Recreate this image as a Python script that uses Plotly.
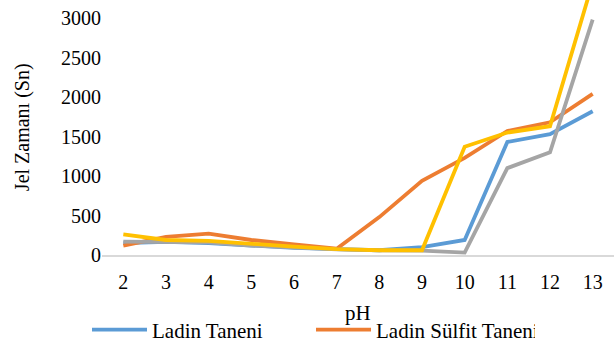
import plotly.graph_objects as go

ph = ["2", "3", "4", "5", "6", "7", "8", "9", "10", "11", "12", "13"]
ladin_taneni = [150, 165, 150, 120, 90, 75, 60, 100, 190, 1430, 1530, 1820]
ladin_sulfit_taneni = [120, 230, 270, 190, 135, 80, 480, 940, 1230, 1570, 1680, 2040]
seri3 = [170, 160, 160, 120, 90, 70, 60, 55, 30, 1100, 1300, 2980]
seri4 = [260, 190, 180, 140, 105, 75, 60, 60, 1370, 1550, 1630, 3450]
y_ticks = [0, 500, 1000, 1500, 2000, 2500, 3000]

font = "Liberation Serif"

fig = go.Figure()
fig.add_trace(go.Scatter(x=ph, y=ladin_taneni, mode="lines", name="Ladin Taneni",
                         line=dict(color="#5B9BD5", width=3.8)))
fig.add_trace(go.Scatter(x=ph, y=ladin_sulfit_taneni, mode="lines", name="Ladin Sülfit Taneni",
                         line=dict(color="#ED7D31", width=3.8)))
fig.add_trace(go.Scatter(x=ph, y=seri3, mode="lines", name="Seri 3", showlegend=False,
                         line=dict(color="#A5A5A5", width=3.8)))
fig.add_trace(go.Scatter(x=ph, y=seri4, mode="lines", name="Seri 4", showlegend=False,
                         line=dict(color="#FFC000", width=3.8)))

fig.update_layout(
    template="none",
    width=614, height=342,
    margin=dict(l=102, r=0, t=0, b=87, pad=0, autoexpand=False),
    paper_bgcolor="white", plot_bgcolor="white",
    font=dict(family=font, size=20, color="black"),
    xaxis=dict(type="category", range=[-0.5, 11.5], automargin=False, showgrid=False, showline=True,
               linecolor="#D9D9D9", linewidth=1.5, zeroline=False,
               ticks="outside", ticklen=8, tickcolor="rgba(0,0,0,0)"),
    yaxis=dict(range=[0, 3228], tickvals=y_ticks, ticktext=[str(v) for v in y_ticks],
               ticksuffix="\u00a0\u00a0\u00a0",
               automargin=False, showgrid=False, zeroline=False, showline=False,
               ticks="", ticklen=0),
    legend=dict(orientation="h", xref="container", yref="container",
                x=0.1417, xanchor="left", y=0.035, yanchor="middle",
                entrywidth=154, entrywidthmode="pixels", itemwidth=55,
                font=dict(size=21), bgcolor="rgba(0,0,0,0)"),
    showlegend=True,
    annotations=[
        dict(text="pH", xref="paper", yref="paper", x=0.5, y=-0.2275,
             xanchor="center", yanchor="middle", showarrow=False, font=dict(size=21)),
        dict(text="Jel Zamanı (Sn)", xref="paper", yref="paper", x=-0.155, y=0.5,
             xanchor="center", yanchor="middle", textangle=-90, showarrow=False,
             font=dict(size=20)),
    ],
)

fig.write_html("out.html", post_script="document.body.style.margin='0';",
               config={"displayModeBar": False})
